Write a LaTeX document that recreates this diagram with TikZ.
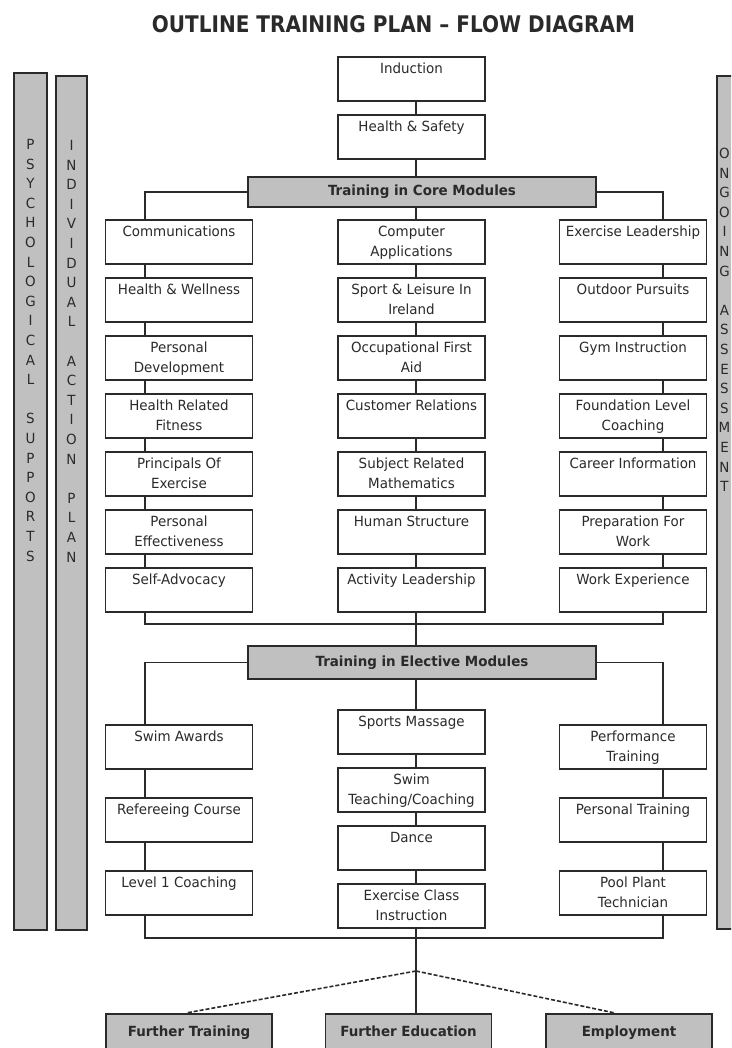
\documentclass[tikz,border=0pt]{standalone}
\usepackage{fontspec}
\usepackage{graphicx}
\setmainfont{DejaVu Sans}[FakeStretch=0.96]
\usetikzlibrary{calc}
\definecolor{panel}{HTML}{C0C0C0}
\definecolor{ink}{HTML}{2A2A2A}
% text of a module box: top aligned, fixed height
\newcommand\modtext[1]{\parbox[b][40pt][t]{143pt}{\centering\rule{0pt}{15pt}#1\par}}
\newcommand\outtext[1]{\parbox[b][43pt][t]{162pt}{\centering\rule{0pt}{21pt}#1\par}}

\begin{document}
\begin{tikzpicture}[x=1pt,y=-1pt,
  every node/.style={text=ink},
  module/.style={draw=ink, line width=1.6pt, fill=white, inner sep=2pt, anchor=north,
    font=\fontsize{14}{20}\selectfont},
  header/.style={draw=ink, line width=1.6pt, fill=panel, minimum width=348pt, inner sep=0pt,
    font=\fontsize{14}{20}\selectfont\bfseries},
  outcome/.style={draw=ink, line width=1.6pt, fill=panel, inner sep=2pt, anchor=north,
    font=\fontsize{14}{20}\selectfont\bfseries},
  sidebar/.style={draw=ink, line width=1.6pt, fill=panel},
  bartext/.style={anchor=north, align=center, inner sep=0pt, font=\fontsize{14}{19.6}\selectfont},
  link/.style={draw=ink, line width=1.6pt},
  route/.style={draw=ink, line width=1.6pt, dash pattern=on 4pt off 2pt},
]
\clip (0,0) rectangle (731,1048);
\fill[white] (0,0) rectangle (731,1048);

% title
\node (title) at (393.5,24) {\resizebox{483pt}{17pt}{\bfseries OUTLINE TRAINING PLAN – FLOW DIAGRAM}};

% side bars
\draw[sidebar] (14,73) rectangle (47,930);
\draw[sidebar] (56,76) rectangle (87,930);
\draw[sidebar] (717,76) rectangle (765,929);
\node[bartext] (psy) at (30.5,139) {P\\S\\Y\\C\\H\\O\\L\\O\\G\\I\\C\\A\\L\\[19.6pt]S\\U\\P\\P\\O\\R\\T\\S};
\node[bartext] (iap) at (71.5,140) {I\\N\\D\\I\\V\\I\\D\\U\\A\\L\\[19.6pt]A\\C\\T\\I\\O\\N\\[19.6pt]P\\L\\A\\N};
\node[bartext] (ong) at (724.5,148) {O\\N\\G\\O\\I\\N\\G\\[19.6pt]A\\S\\S\\E\\S\\S\\M\\E\\N\\T};

% spines of the three columns
\coordinate (lx) at (145,0);
\coordinate (mx) at (416,0);
\coordinate (rx) at (663,0);

% start
\node[module] (ind) at (411.5,56) {\modtext{Induction}};
\node[module] (hs) at (411.5,114) {\modtext{Health \& Safety}};
\node[header, minimum height=30pt] (core) at (422,192) {Training in Core Modules};

% core modules
\node[module] (comm) at (179,219) {\modtext{Communications}};
\node[module] (hw)   at (179,277) {\modtext{Health \& Wellness}};
\node[module] (pd)   at (179,335) {\modtext{Personal\\Development}};
\node[module] (hrf)  at (179,393) {\modtext{Health Related\\Fitness}};
\node[module] (poe)  at (179,451) {\modtext{Principals Of\\Exercise}};
\node[module] (pe)   at (179,509) {\modtext{Personal\\Effectiveness}};
\node[module] (sa)   at (179,567) {\modtext{Self-Advocacy}};

\node[module] (ca)   at (411.5,219) {\modtext{Computer\\Applications}};
\node[module] (sli)  at (411.5,277) {\modtext{Sport \& Leisure In\\Ireland}};
\node[module] (ofa)  at (411.5,335) {\modtext{Occupational First\\Aid}};
\node[module] (cr)   at (411.5,393) {\modtext{Customer Relations}};
\node[module] (srm)  at (411.5,451) {\modtext{Subject Related\\Mathematics}};
\node[module] (hst)  at (411.5,509) {\modtext{Human Structure}};
\node[module] (al)   at (411.5,567) {\modtext{Activity Leadership}};

\node[module] (el)   at (633,219) {\modtext{Exercise Leadership}};
\node[module] (op)   at (633,277) {\modtext{Outdoor Pursuits}};
\node[module] (gi)   at (633,335) {\modtext{Gym Instruction}};
\node[module] (flc)  at (633,393) {\modtext{Foundation Level\\Coaching}};
\node[module] (ci)   at (633,451) {\modtext{Career Information}};
\node[module] (pfw)  at (633,509) {\modtext{Preparation For\\Work}};
\node[module] (we)   at (633,567) {\modtext{Work Experience}};

\node[header, minimum height=33pt] (elec) at (422,662.5) {Training in Elective Modules};

% elective modules
\node[module] (swa)  at (179,724) {\modtext{Swim Awards}};
\node[module] (ref)  at (179,797) {\modtext{Refereeing Course}};
\node[module] (lvl)  at (179,870) {\modtext{Level 1 Coaching}};

\node[module] (sm)   at (411.5,709) {\modtext{Sports Massage}};
\node[module] (stc)  at (411.5,767) {\modtext{Swim\\Teaching/Coaching}};
\node[module] (dan)  at (411.5,825) {\modtext{Dance}};
\node[module] (eci)  at (411.5,883) {\modtext{Exercise Class\\Instruction}};

\node[module] (perf) at (633,724) {\modtext{Performance\\Training}};
\node[module] (pers) at (633,797) {\modtext{Personal Training}};
\node[module] (pool) at (633,870) {\modtext{Pool Plant\\Technician}};

% outcomes
\node[outcome] (ft)  at (189,1013) {\outtext{Further Training}};
\node[outcome] (fe)  at (408.5,1013) {\outtext{Further Education}};
\node[outcome] (emp) at (629,1013) {\outtext{Employment}};

% connectors: start
\draw[link] (ind.south -| mx) -- (hs.north -| mx);
\draw[link] (hs.south -| mx) -- (core.north -| mx);

% connectors: core modules
\draw[link] (core.west) -| (lx |- comm.north);
\draw[link] (core.east) -| (rx |- el.north);
\draw[link] (core.south -| mx) -- (ca.north -| mx);
\foreach \a/\b in {comm/hw, hw/pd, pd/hrf, hrf/poe, poe/pe, pe/sa}
  \draw[link] (\a.south -| lx) -- (\b.north -| lx);
\foreach \a/\b in {ca/sli, sli/ofa, ofa/cr, cr/srm, srm/hst, hst/al}
  \draw[link] (\a.south -| mx) -- (\b.north -| mx);
\foreach \a/\b in {el/op, op/gi, gi/flc, flc/ci, ci/pfw, pfw/we}
  \draw[link] (\a.south -| rx) -- (\b.north -| rx);
\coordinate (corejoin) at (416,624);
\draw[link] (lx |- sa.south) |- (corejoin) -| (rx |- we.south);
\draw[link] (al.south -| mx) -- (elec.north -| mx);

% connectors: elective modules
\draw[link] (elec.west) -| (lx |- swa.north);
\draw[link] (elec.east) -| (rx |- perf.north);
\draw[link] (elec.south -| mx) -- (sm.north -| mx);
\foreach \a/\b in {swa/ref, ref/lvl}
  \draw[link] (\a.south -| lx) -- (\b.north -| lx);
\foreach \a/\b in {sm/stc, stc/dan, dan/eci}
  \draw[link] (\a.south -| mx) -- (\b.north -| mx);
\foreach \a/\b in {perf/pers, pers/pool}
  \draw[link] (\a.south -| rx) -- (\b.north -| rx);
\coordinate (electjoin) at (416,938);
\draw[link] (lx |- lvl.south) |- (electjoin) -| (rx |- pool.south);

% connectors: outcomes
\draw[link] (eci.south -| mx) -- (fe.north -| mx);
\coordinate (fork) at (416,971);
\draw[route] (fork) -- ([xshift=-3pt]ft.north);
\draw[route] (fork) -- ([xshift=-14pt]emp.north);
\end{tikzpicture}
\end{document}
